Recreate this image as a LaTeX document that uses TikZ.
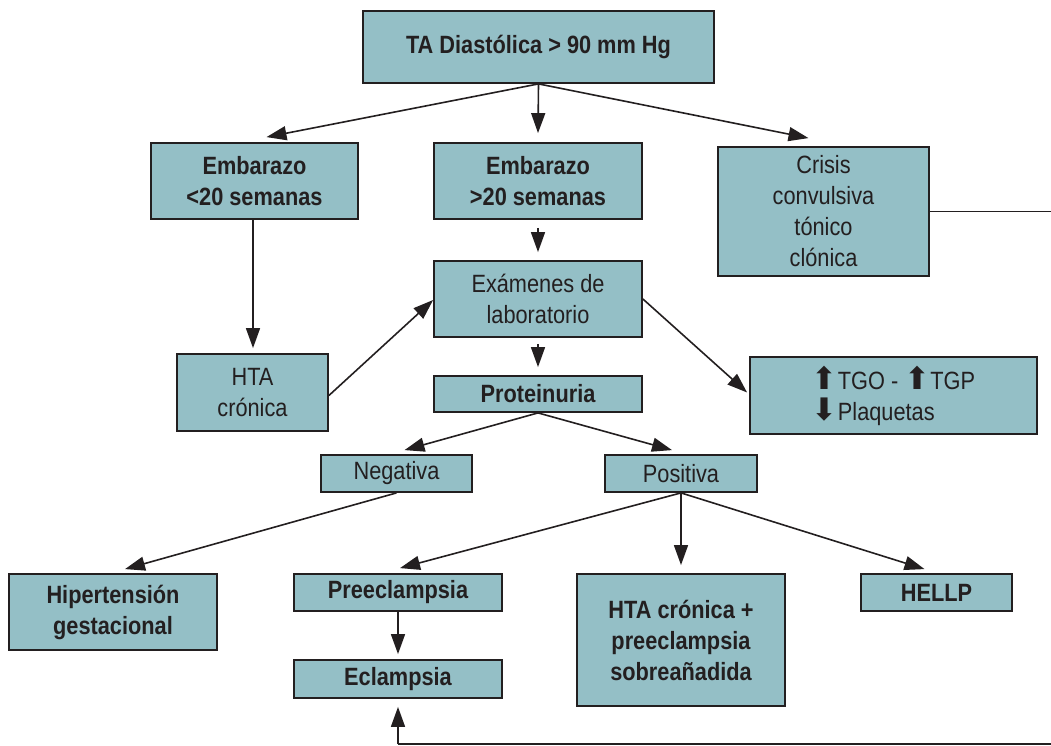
\documentclass[tikz,border=0pt]{standalone}
\usepackage{fontspec}
\setmainfont{Liberation Sans}[FakeStretch=0.87]
\newfontfamily\arrowfont{DejaVu Sans}
\usetikzlibrary{arrows.meta,calc}
\definecolor{boxfill}{HTML}{94BFC6}
\definecolor{ink}{HTML}{231F20}
\newcommand{\bigup}{{\arrowfont\fontsize{31}{31}\selectfont ⬆}}
\newcommand{\bigdown}{{\arrowfont\fontsize{31}{31}\selectfont ⬇}}
\begin{document}
\begin{tikzpicture}[x=1pt,y=-1pt,
  box/.style={draw=ink, line width=1.8pt, fill=boxfill, text=ink, inner sep=0pt, align=center,
    font=\fontsize{25}{31}\selectfont},
  bbox/.style={box, font=\fontsize{25}{31}\selectfont\bfseries},
  wh/.style 2 args={minimum width=#1pt, minimum height=#2pt},
  arr/.style={draw=ink, line width=1.6pt, -{Triangle[width=14pt,length=20pt]}},
  ln/.style={draw=ink, line width=1.6pt}]
\useasboundingbox (0,0) rectangle (1051,746);
\node[bbox, wh={351}{72}] (top) at (538.5,47) {TA Diastólica > 90 mm Hg};
\node[bbox, wh={207}{76}] (emb1) at (254.5,181) {Embarazo\\<20 semanas};
\node[bbox, wh={208}{76}] (emb2) at (538,181) {Embarazo\\>20 semanas};
\node[box, wh={211}{129}] (crisis) at (823.5,211.5) {Crisis\\convulsiva\\tónico\\clónica};
\node[box, wh={208}{76}] (exam) at (538,299) {Exámenes de\\laboratorio};
\node[box, wh={151}{77}] (hta) at (252.5,392.5) {HTA\\crónica};
\node[bbox, wh={208}{36}] (prot) at (538,394) {Proteinuria};
\node[box, wh={287}{77}, align=left] (tgo) at (893.5,395.5) {\bigup TGO - \bigup TGP\\\bigdown Plaquetas};
\node[box, wh={151}{37}] (neg) at (396.5,473.5) {Negativa};
\node[box, wh={152}{37}] (pos) at (681,473.5) {Positiva};
\node[bbox, wh={208}{76}] (hip) at (113,612) {Hipertensión\\gestacional};
\node[bbox, wh={208}{37}] (pre) at (398,592.5) {Preeclampsia};
\node[bbox, wh={208}{132}] (htap) at (681,640) {HTA crónica +\\preeclampsia\\sobreañadida};
\node[bbox, wh={151}{37}] (hellp) at (936.5,592.5) {HELLP};
\node[bbox, wh={208}{38}] (ecl) at (398,679) {Eclampsia};
\coordinate (c1) at (1056,211.5);
\coordinate (c2) at (1056,744);
\coordinate (c3) at (398,744);
\draw[arr] (top.south) -- ($(emb1.north)+(12,-5)$);
\draw[arr] (top.south) -- ($(emb2.north)+(0,-9)$);
\draw[arr] (top.south) -- ($(crisis.north)+(-15,-8)$);
\draw[arr] ($(emb1.south)+(-1.5,0)$) -- ($(hta.north)+(0.5,-5)$);
\draw[arr] ($(hta.east)+(0,3)$) -- ($(exam.west)+(0,1)$);
\draw[arr] ($(emb2.south)+(0,8)$) -- ($(exam.north)+(0,-8)$);
\draw[arr] ($(exam.south)+(0,6)$) -- ($(prot.north)+(0,-8)$);
\draw[arr] (exam.east) -- ($(tgo.west)+(-2,-3)$);
\draw[arr] (prot.south) -- ($(neg.north)+(8,-4)$);
\draw[arr] (prot.south) -- ($(pos.north)+(-9,-4)$);
\draw[arr] (neg.south) -- ($(hip.north)+(12,-4)$);
\draw[arr] (pos.south) -- ($(pre.north)+(2,-5)$);
\draw[arr] (pos.south) -- ($(htap.north)+(0,-8)$);
\draw[arr] (pos.south) -- ($(hellp.north)+(-12,-4)$);
\draw[arr] (pre.south) -- ($(ecl.north)+(0,-5)$);
\draw[ln] (crisis.east) -- (c1) -- (c2) -- (c3);
\draw[arr] (c3) -- ($(ecl.south)+(0,8)$);
\end{tikzpicture}
\end{document}
